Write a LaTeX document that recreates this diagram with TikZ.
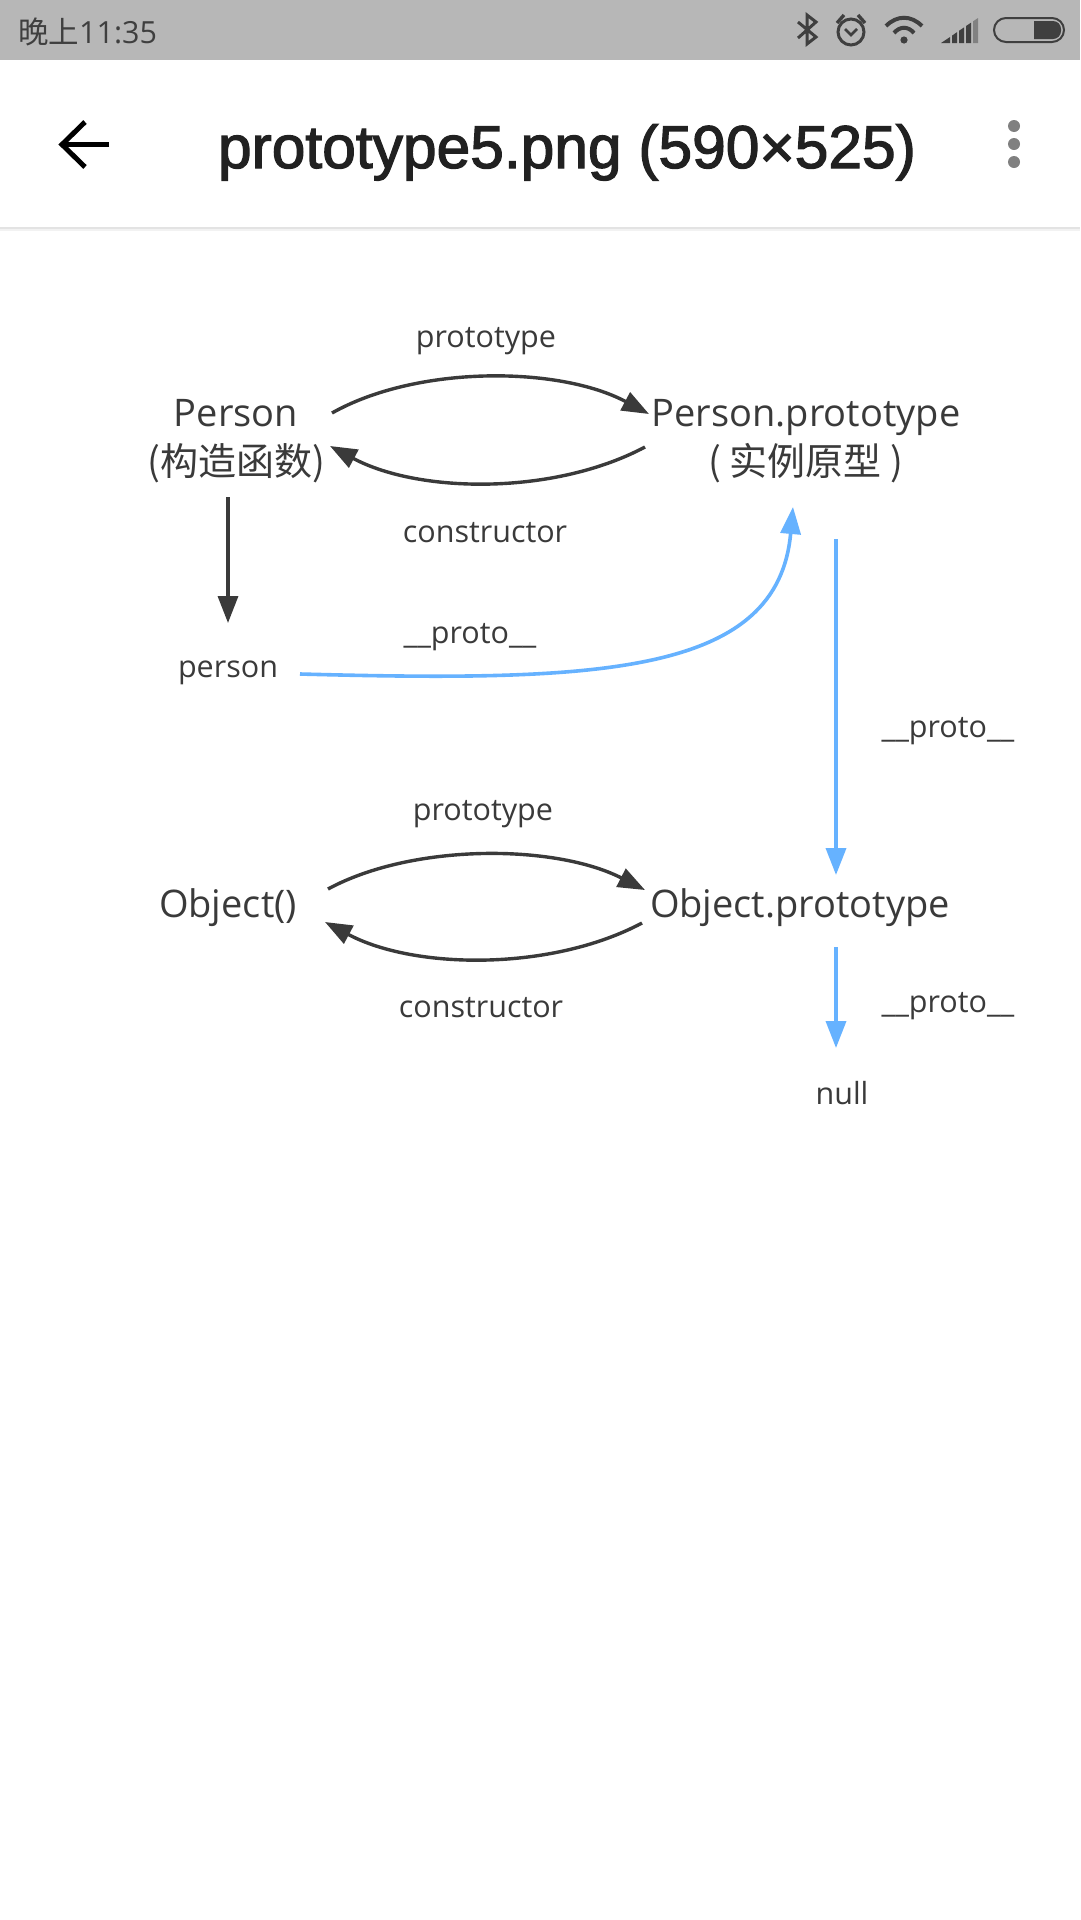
\documentclass[tikz,border=0pt]{standalone}
\usepackage{fontspec}
\setmainfont{Open Sans}
\newfontfamily\cjkfont{Noto Sans CJK SC}
\newfontfamily\titlefont[FakeBold=2]{Liberation Sans}
\usetikzlibrary{arrows.meta}
\definecolor{ink}{HTML}{3A3A3A}
\definecolor{protoblue}{HTML}{66B2FF}
\definecolor{barbg}{HTML}{B7B7B7}
\definecolor{baricon}{HTML}{3F3F3F}
\newcommand{\fsize}[1]{\fontsize{#1pt}{#1pt}\selectfont}
\tikzset{
  x=1pt,y=-1pt,
  bigtext/.style={anchor=base,inner sep=0pt,text=ink,font=\fsize{38}},
  smalltext/.style={anchor=base,inner sep=0pt,text=ink,font=\fsize{30.5}},
  darkline/.style={draw=ink,line width=3.4pt,-{Triangle[length=27pt,width=20pt]}},
  blueline/.style={draw=protoblue,line width=3.6pt,-{Triangle[length=27pt,width=20pt]}},
  iconline/.style={draw=baricon,line width=2.6pt},
}
\begin{document}
\begin{tikzpicture}
\useasboundingbox (0,0) rectangle (1080,1920);
\fill[white] (0,0) rectangle (1080,1920);
% status bar
\fill[barbg] (0,0) rectangle (1080,60);
\node[anchor=base west,inner sep=0pt,text=baricon,font=\fsize{30.5}] (clock) at (18,43) {{\cjkfont 晚上}11:35};
% bluetooth
\draw[iconline,line width=3pt,line join=miter] (798,22) -- (816,37) -- (807,44) -- (807,15) -- (816,22) -- (798,38);
% alarm
\draw[iconline,line width=3pt] (851,32) circle (13);
\draw[iconline,line width=2.6pt] (845,29) -- (851,35) -- (857,29);
\draw[iconline,line width=3.4pt] (837,23) -- (844,15);
\draw[iconline,line width=3.4pt] (865,23) -- (858,15);
% wifi
\draw[iconline,line width=4pt] (886,26) .. controls (897,15) and (911,15) .. (922,26);
\draw[iconline,line width=4pt] (894,33) .. controls (900,26) and (908,26) .. (914,33);
\fill[baricon] (904,40) circle (3.6);
% signal
\fill[baricon] (941,43) -- (950,37) -- (950,43) -- cycle;
\fill[baricon] (952,35.6) -- (957,32.2) -- (957,43) -- (952,43) -- cycle;
\fill[baricon] (959,30.8) -- (964,27.4) -- (964,43) -- (959,43) -- cycle;
\fill[baricon] (966,26) -- (971,22.7) -- (971,43) -- (966,43) -- cycle;
\fill[baricon!45!barbg] (973,21.4) -- (978,18) -- (978,43) -- (973,43) -- cycle;
% battery
\draw[baricon,line width=2pt,rounded corners=12pt] (994,18) rectangle (1064,42);
\fill[baricon] (1034,21) [rounded corners=8pt] -- (1061,21) -- (1061,39) [sharp corners] -- (1034,39) -- cycle;
% app bar
\fill[black!5] (0,228) rectangle (1080,231);
\fill[black!11] (0,227) rectangle (1080,229);
\node[anchor=base,inner sep=0pt,text=black!87,font=\titlefont\fsize{60.5}] (title) at (567,168) {prototype5.png (590×525)};
\draw[black,line width=5pt] (109,144) -- (62,144);
\draw[black,line width=5pt,line join=miter] (85,122) -- (62,144.5) -- (85,167);
\fill[black!50] (1014,126) circle (6);
\fill[black!50] (1014,144) circle (6);
\fill[black!50] (1014,162) circle (6);
% diagram nodes
\node[bigtext,align=center] (person) at (236,475) {Person\vphantom{py}\\[6pt]{\cjkfont (构造函数)}};
\node[bigtext,align=center] (pproto) at (806,475) {Person.prototype\vphantom{py}\\[6pt]{\cjkfont ( 实例原型 )}};
\node[smalltext] (inst) at (228,677) {person};
\node[bigtext] (object) at (228,917) {Object()};
\node[bigtext] (oproto) at (800,917) {Object.prototype};
\node[smalltext] (null) at (842,1104) {null};
% connectors
\draw[darkline] ([shift={(96,-62)}]person.base) .. controls +(85,-48) and +(-90,-48) .. ([shift={(-157,-61)}]pproto.base);
\draw[darkline] ([shift={(-161,-28)}]pproto.base) .. controls +(-90,48) and +(90,48) .. ([shift={(94,-29)}]person.base);
\draw[darkline] ([shift={(-8,22)}]person.base) -- ([shift={(0,-54)}]inst.base);
\draw[blueline] ([shift={(72,-3)}]inst.base) .. controls +(300,8) and +(-15,168) .. ([shift={(-13,32)}]pproto.base);
\draw[blueline] ([shift={(30,64)}]pproto.base) -- ([shift={(36,-42)}]oproto.base);
\draw[blueline] ([shift={(36,30)}]oproto.base) -- ([shift={(-6,-56)}]null.base);
\draw[darkline] ([shift={(100,-28)}]object.base) .. controls +(85,-46) and +(-90,-46) .. ([shift={(-155,-27)}]oproto.base);
\draw[darkline] ([shift={(-158,6)}]oproto.base) .. controls +(-90,48) and +(90,48) .. ([shift={(97,5)}]object.base);
% labels
\node[smalltext] (l1) at (486,347) {prototype};
\node[smalltext] (l2) at (485,542) {constructor};
\node[smalltext] (l3) at (470,643) {\_\_proto\_\_};
\node[smalltext] (l4) at (948,737) {\_\_proto\_\_};
\node[smalltext] (l5) at (483,820) {prototype};
\node[smalltext] (l6) at (481,1017) {constructor};
\node[smalltext] (l7) at (948,1012) {\_\_proto\_\_};
\end{tikzpicture}
\end{document}
